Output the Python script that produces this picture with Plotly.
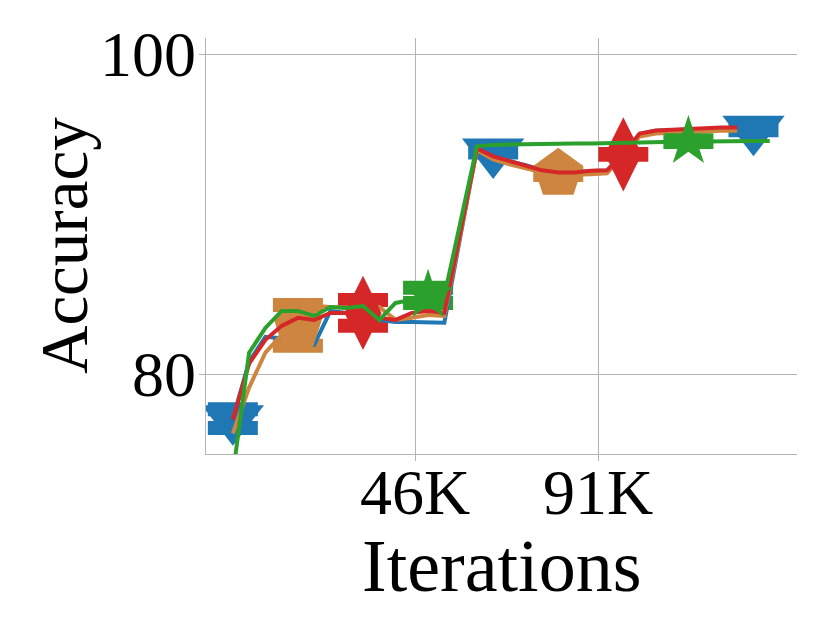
import plotly.graph_objects as go

# x positions (thousands of iterations)
iters_k = [1.2, 5.2, 9.2, 13.2, 17.2, 21.2, 25.2, 29.2, 33.2, 37.2, 41.2, 45.2,
           49.2, 53.2, 57.2, 61.2, 65.2, 69.2, 73.2, 77.2, 81.2, 85.2, 89.2,
           93.2, 97.2, 101.2, 105.2, 109.2, 113.2, 117.2, 121.2, 125.2, 129.2, 133.2]

acc_blue = [77.21, 80.77, 82.32, 82.26, 82.14, 81.83, 83.94, 83.81, 83.63, 83.38,
            83.25, 83.25, 83.23, 83.20, 88.68, 94.10, 93.88, 93.30, 93.05, 92.75,
            92.62, 92.60, 92.68, 92.72, 93.80, 95.00, 95.20, 95.25, 95.30, 95.32,
            95.33, 95.33, 95.29]
acc_orange = [76.28, 79.15, 81.33, 82.45, 83.04, 84.26, 84.19, 84.13, 84.13, 84.19,
              83.38, 83.51, 83.69, 83.63, 88.87, 93.98, 93.42, 93.10, 92.86, 92.61,
              92.51, 92.45, 92.48, 92.54, 93.66, 94.84, 95.03, 95.09, 95.15, 95.18,
              95.21, 95.21]
acc_red = [77.16, 80.65, 82.14, 83.01, 83.51, 83.38, 83.82, 83.82, 83.82, 83.51,
           83.38, 83.82, 83.94, 83.82, 89.00, 94.10, 93.60, 93.29, 93.04, 92.73,
           92.60, 92.60, 92.70, 92.73, 93.73, 95.03, 95.22, 95.28, 95.34, 95.38,
           95.41, 95.41]
acc_green = [73.73, 81.33, 82.88, 83.94, 83.94, 83.63, 84.19, 84.13, 84.25, 83.38,
             84.44, 84.63, 84.91, 84.88, 89.55, 94.23, 94.32, 94.35, 94.35, 94.35,
             94.38, 94.41, 94.41, 94.44, 94.47, 94.50, 94.53, 94.53, 94.53, 94.53,
             94.56, 94.56, 94.56, 94.56]

# spread of the marked points (error bars)
err_blue = [0.58, 0.03, 0.05]
err_orange = [1.28, 0.07]
err_red = [0.80, 0.02]
err_green = [0.48, 0.03]

x_ticks = [46, 91]
x_tick_labels = ["46K", "91K"]
y_ticks = [80, 100]
x_title = "Iterations"
y_title = "Accuracy"

series = [
    # name, values, errors, first marked index, color, symbol, size
    ("blue", acc_blue, err_blue, 0, "#1f77b4", "triangle-down", 54),
    ("orange", acc_orange, err_orange, 4, "#cd853f", "pentagon", 52),
    ("red", acc_red, err_red, 8, "#d62728", "diamond-tall", 53),
    ("green", acc_green, err_green, 12, "#2ca02c", "star", 38),
]
MARK_EVERY = 16

fig = go.Figure()

# error bars first (drawn beneath all lines)
for name, vals, errs, start, color, symbol, size in series:
    xs = iters_k[:len(vals)][start::MARK_EVERY]
    ys = vals[start::MARK_EVERY]
    fig.add_trace(go.Scatter(
        x=xs, y=ys, mode="markers",
        marker=dict(size=1, color="rgba(0,0,0,0)"),
        error_y=dict(type="data", array=errs[:len(ys)], color=color,
                     thickness=14, width=25),
        showlegend=False, hoverinfo="skip", cliponaxis=False,
    ))

for name, vals, errs, start, color, symbol, size in series:
    n = len(vals)
    sizes = [size if (i >= start and (i - start) % MARK_EVERY == 0) else 0
             for i in range(n)]
    fig.add_trace(go.Scatter(
        x=iters_k[:n], y=vals, mode="lines+markers", name=name,
        line=dict(color=color, width=4),
        marker=dict(symbol=symbol, size=sizes, color=color, opacity=1,
                    line=dict(width=0)),
        showlegend=False, cliponaxis=True,
    ))

font_family = "Liberation Serif, serif"
fig.update_layout(
    width=830, height=633,
    margin=dict(l=198, r=41, t=30, b=187),
    paper_bgcolor="white", plot_bgcolor="white",
    font=dict(family=font_family, color="black"),
    xaxis=dict(
        range=[-5.4, 139.9], tickvals=x_ticks, ticktext=x_tick_labels,
        tickfont=dict(size=64), showgrid=True, gridcolor="#b3b3b3", gridwidth=1.3,
        showline=True, linecolor="#b3b3b3", linewidth=1.3,
        ticks="outside", ticklen=6, tickcolor="#b3b3b3", tickwidth=1.3,
        zeroline=False, automargin=False, ticklabelstandoff=-24,
    ),
    yaxis=dict(
        range=[75, 101], tickvals=y_ticks,
        tickfont=dict(size=64), showgrid=True, gridcolor="#b3b3b3", gridwidth=1.3,
        showline=True, linecolor="#b3b3b3", linewidth=1.3,
        ticks="outside", ticklen=6, tickcolor="#b3b3b3", tickwidth=1.3,
        zeroline=False, automargin=False, ticklabelstandoff=-10,
    ),
    annotations=[
        dict(text=x_title, xref="paper", yref="paper", x=0.5, y=0,
             xanchor="center", yanchor="middle", yshift=-112, showarrow=False,
             font=dict(size=74)),
        dict(text=y_title, xref="paper", yref="paper", x=0, y=0.5,
             xanchor="center", yanchor="middle", xshift=-142, showarrow=False,
             textangle=-90, font=dict(size=67)),
    ],
)

fig.write_html("out.html")
